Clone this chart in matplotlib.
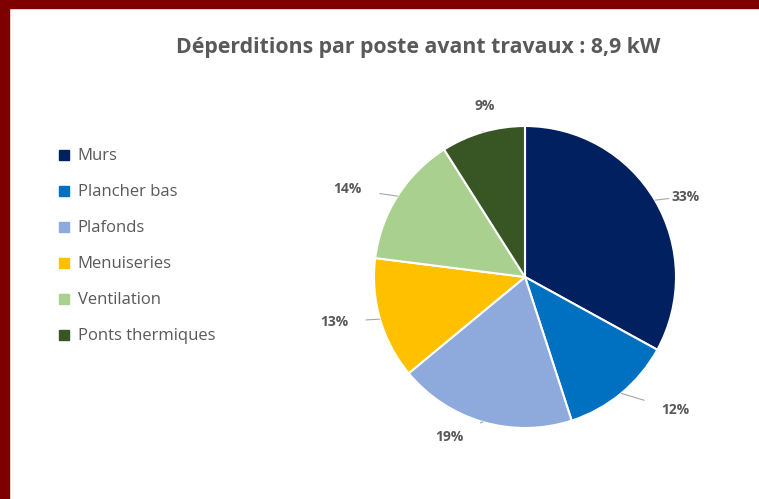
import numpy as np
import matplotlib
matplotlib.use("Agg")
import matplotlib.pyplot as plt
from matplotlib.patches import Rectangle
from matplotlib.lines import Line2D

# heat loss share per item, before works
postes = ["Murs", "Plancher bas", "Plafonds", "Menuiseries", "Ventilation", "Ponts thermiques"]
parts = [33, 12, 19, 13, 14, 9]
couleurs = ["#002060", "#0070C0", "#8EA9DB", "#FFC000", "#A9D08E", "#375623"]
titre = "Déperditions par poste avant travaux : 8,9 kW"

# label placement: (radius, angle shift in degrees) for each percentage
lab_r = [1.19, 1.33, 1.17, 1.30, 1.31, 1.16]
lab_da = [-4, 9, -9, -3, 6, -3]

W, H = 759, 499
fig = plt.figure(figsize=(W / 100, H / 100), dpi=100)
fig.patch.set_facecolor("white")

# dark red frame on top and left
fig.patches.append(Rectangle((0, 1 - 8 / H), 1, 8 / H, transform=fig.transFigure,
                             color="#7f0000", zorder=10))
fig.patches.append(Rectangle((0, 0), 9 / W, 1, transform=fig.transFigure,
                             color="#7f0000", zorder=10))

gris = "#595959"
fig.text(418 / W, 1 - 48 / H, titre, ha="center", va="center", fontsize=15.3,
         fontweight="bold", color=gris, family="Open Sans")

# pie axes: centre (525, 277) px, radius 151 px
cx, cy, R = 525, 277, 151
ax = fig.add_axes([(cx - R) / W, (H - cy - R) / H, 2 * R / W, 2 * R / H])
wedges, _ = ax.pie(parts, colors=couleurs, startangle=90, counterclock=False,
                   wedgeprops=dict(edgecolor="white", linewidth=1.5))
ax.set_xlim(-1, 1)
ax.set_ylim(-1, 1)
ax.set_aspect("equal")
ax.axis("off")

cum = np.cumsum([0] + parts[:-1])
for i, p in enumerate(parts):
    mid = 90 - (cum[i] + p / 2) * 3.6
    a = np.deg2rad(mid)
    b = np.deg2rad(mid + lab_da[i])
    ax.annotate(f"{p}%", xy=(np.cos(a), np.sin(a)),
                xytext=(lab_r[i] * np.cos(b), lab_r[i] * np.sin(b)),
                ha="center", va="center", fontsize=10, fontweight="bold",
                color=gris, family="Open Sans", annotation_clip=False,
                arrowprops=dict(arrowstyle="-", color="#a6a6a6", lw=0.8,
                                shrinkA=11, shrinkB=0))

handles = [Line2D([], [], marker="s", linestyle="none", markersize=7,
                  markerfacecolor=c, markeredgecolor=c) for c in couleurs]
fig.legend(handles, postes, loc="upper left", bbox_to_anchor=(50 / W, 1 - 140 / H),
           frameon=False, labelcolor=gris, handlelength=0.7,
           handletextpad=0.45, labelspacing=1.2, borderpad=0,
           prop=dict(family="Open Sans", size=12))

fig.savefig("out.png", dpi=100, facecolor="white")
